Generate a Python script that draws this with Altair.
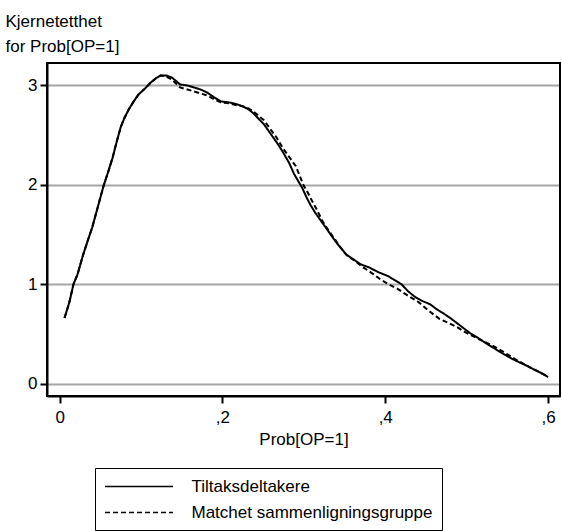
import altair as alt
import pandas as pd

# Kernel density of the propensity score Prob[OP=1]
series_names = ["Tiltaksdeltakere", "Matchet sammenligningsgruppe"]

treated_p = [0.006, 0.012, 0.017, 0.022, 0.029, 0.035, 0.040, 0.047, 0.054, 0.060,
             0.065, 0.070, 0.075, 0.080, 0.085, 0.091, 0.097, 0.105, 0.112, 0.118,
             0.124, 0.131, 0.138, 0.148, 0.157, 0.165, 0.173, 0.181, 0.190, 0.198,
             0.208, 0.218, 0.225, 0.232, 0.238, 0.245, 0.251, 0.257, 0.263, 0.269,
             0.275, 0.282, 0.288, 0.293, 0.298, 0.303, 0.308, 0.314, 0.320, 0.327,
             0.333, 0.339, 0.345, 0.352, 0.361, 0.370, 0.380, 0.392, 0.404, 0.412,
             0.420, 0.428, 0.437, 0.446, 0.455, 0.463, 0.471, 0.480, 0.488, 0.496,
             0.504, 0.514, 0.525, 0.535, 0.545, 0.556, 0.566, 0.574, 0.582, 0.591,
             0.600]
treated_d = [0.66, 0.82, 1.00, 1.10, 1.30, 1.45, 1.57, 1.78, 1.99, 2.14,
             2.27, 2.43, 2.58, 2.68, 2.76, 2.84, 2.91, 2.97, 3.03, 3.07,
             3.10, 3.10, 3.08, 3.01, 3.00, 2.98, 2.96, 2.93, 2.88, 2.84,
             2.83, 2.81, 2.79, 2.76, 2.72, 2.66, 2.61, 2.54, 2.47, 2.40,
             2.32, 2.22, 2.11, 2.04, 1.97, 1.88, 1.80, 1.72, 1.65, 1.57,
             1.50, 1.43, 1.37, 1.30, 1.25, 1.20, 1.17, 1.12, 1.08, 1.04,
             1.00, 0.93, 0.87, 0.83, 0.80, 0.75, 0.71, 0.66, 0.61, 0.56,
             0.51, 0.46, 0.40, 0.35, 0.30, 0.25, 0.21, 0.18, 0.145, 0.11,
             0.067]

matched_p = [0.006, 0.012, 0.017, 0.022, 0.029, 0.035, 0.040, 0.047, 0.054, 0.060,
             0.065, 0.070, 0.075, 0.080, 0.085, 0.091, 0.097, 0.105, 0.112, 0.118,
             0.124, 0.131, 0.138, 0.148, 0.157, 0.165, 0.173, 0.181, 0.190, 0.198,
             0.208, 0.218, 0.225, 0.232, 0.238, 0.245, 0.251, 0.259, 0.267, 0.275,
             0.283, 0.290, 0.295, 0.300, 0.305, 0.310, 0.316, 0.322, 0.328, 0.334,
             0.340, 0.346, 0.353, 0.362, 0.373, 0.384, 0.394, 0.404, 0.414, 0.427,
             0.441, 0.454, 0.467, 0.478, 0.488, 0.500, 0.512, 0.525, 0.537, 0.549,
             0.560, 0.570, 0.580, 0.590, 0.600]
matched_d = [0.66, 0.82, 1.00, 1.10, 1.30, 1.45, 1.57, 1.78, 1.99, 2.14,
             2.27, 2.43, 2.58, 2.68, 2.76, 2.84, 2.91, 2.97, 3.03, 3.07,
             3.10, 3.09, 3.06, 2.98, 2.96, 2.94, 2.92, 2.90, 2.86, 2.83,
             2.82, 2.80, 2.79, 2.77, 2.74, 2.69, 2.65, 2.56, 2.47, 2.36,
             2.27, 2.19, 2.09, 1.99, 1.92, 1.84, 1.75, 1.65, 1.57, 1.50,
             1.43, 1.36, 1.29, 1.24, 1.17, 1.11, 1.05, 1.00, 0.96, 0.89,
             0.82, 0.73, 0.65, 0.61, 0.57, 0.51, 0.46, 0.41, 0.36, 0.30,
             0.245, 0.20, 0.155, 0.115, 0.07]

x_ticks = [0, 0.2, 0.4, 0.6]
y_ticks = [0, 1, 2, 3]

# Scale extents of the plot area (also used for the frame rectangle)
X_DOMAIN = [-0.0155, 0.6147]
Y_DOMAIN = [-0.124, 3.226]

df = pd.concat([
    pd.DataFrame({"p": treated_p, "dens": treated_d, "gruppe": series_names[0]}),
    pd.DataFrame({"p": matched_p, "dens": matched_d, "gruppe": series_names[1]}),
])
frame_df = pd.DataFrame({"x0": [X_DOMAIN[0]], "x1": [X_DOMAIN[1]],
                         "y0": [Y_DOMAIN[0]], "y1": [Y_DOMAIN[1]]})

FONT = "Liberation Sans"
PAD = "\u00a0" * 24

x_scale = alt.Scale(domain=X_DOMAIN, nice=False, zero=False)
y_scale = alt.Scale(domain=Y_DOMAIN, nice=False, zero=False)

x_axis = alt.Axis(
    values=x_ticks,
    labelExpr="datum.value == 0 ? '0' : replace(format(datum.value, '.1f'), '0.', ',')",
    title="Prob[OP=1]",
    grid=False,
    domain=True,
    domainColor="black",
    domainWidth=2,
    tickColor="black",
    tickWidth=2,
    tickSize=7,
    labelPadding=6,
    labelFontSize=17,
    labelFont=FONT,
    labelColor="black",
    titleFont=FONT,
    titleFontSize=17,
    titleFontWeight="normal",
    titleColor="black",
    titlePadding=6,
)

y_axis = alt.Axis(
    values=y_ticks,
    format="d",
    title=["Kjernetetthet", "for Prob[OP=1]"],
    titleAngle=0,
    titleAlign="left",
    titleBaseline="top",
    titleX=-42,
    titleY=-50,
    titleLineHeight=25,
    titleFont=FONT,
    titleFontSize=17,
    titleFontWeight="normal",
    titleColor="black",
    grid=True,
    gridColor="#a6a6a6",
    gridWidth=2,
    domain=True,
    domainColor="black",
    domainWidth=2,
    tickColor="black",
    tickWidth=2,
    tickSize=7,
    labelPadding=3,
    labelFontSize=17,
    labelFont=FONT,
    labelColor="black",
)

# Black box around the plot area, spanning the full scale extents
frame = alt.Chart(frame_df).mark_rect(filled=False, stroke="black", strokeWidth=2).encode(
    x=alt.X("x0:Q", scale=x_scale, axis=x_axis),
    x2="x1:Q",
    y=alt.Y("y0:Q", scale=y_scale, axis=y_axis),
    y2="y1:Q",
)

curves = alt.Chart(df).mark_line(color="black", strokeWidth=2).encode(
    x=alt.X("p:Q", scale=x_scale, axis=x_axis),
    y=alt.Y("dens:Q", scale=y_scale, axis=y_axis),
    strokeDash=alt.StrokeDash(
        "gruppe:N",
        scale=alt.Scale(domain=series_names, range=[[1, 0], [5, 3]]),
        legend=alt.Legend(
            title=None,
            orient="none",
            legendX=48,
            legendY=405,
            direction="vertical",
            # long horizontal stroke drawn with a small nominal symbol size
            symbolType="M-4,0H4",
            symbolSize=289,
            symbolOffset=25.5,
            symbolStrokeColor="black",
            symbolStrokeWidth=1.5,
            labelFont=FONT,
            labelFontSize=17,
            labelColor="black",
            labelOffset=43,
            labelLimit=500,
            labelExpr="datum.label + '" + PAD + "'",
            rowPadding=8,
            padding=9,
            strokeColor="black",
        ),
    ),
)

chart = alt.layer(frame, curves).properties(
    width=513,
    height=333,
    padding={"left": 5, "top": 12, "right": 1, "bottom": 2},
).configure_view(
    stroke="black",
    strokeWidth=2,
)

chart.save("out.html", embed_options={"renderer": "svg", "actions": False})
